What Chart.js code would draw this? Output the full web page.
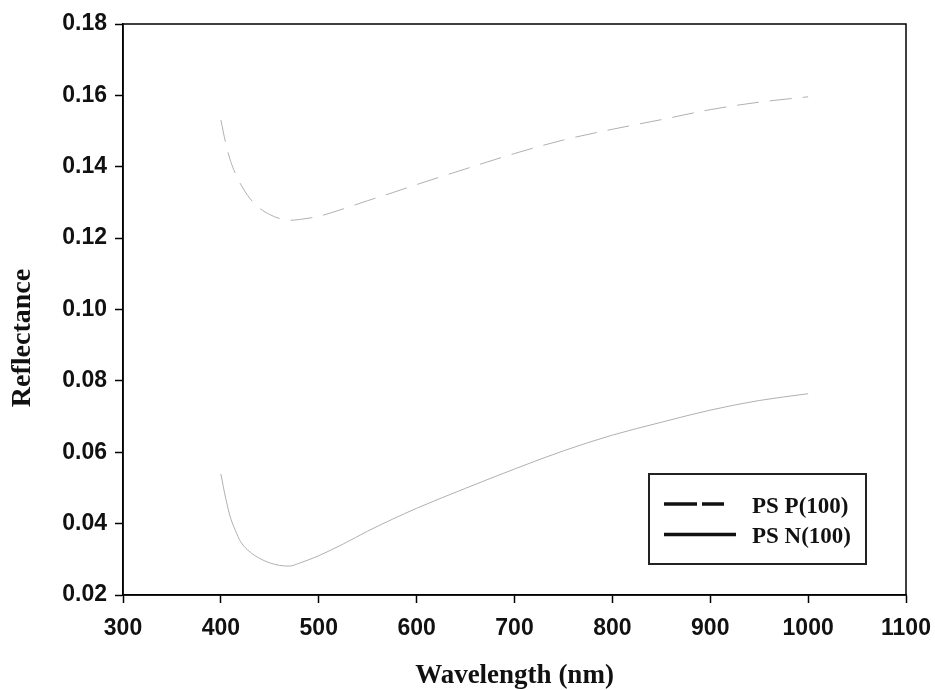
<!DOCTYPE html>
<html><head><meta charset="utf-8">
<script src="https://cdn.jsdelivr.net/npm/chart.js@4.4.1/dist/chart.umd.min.js"></script>
<style>html,body{margin:0;padding:0;background:#fff;}canvas{display:block;}</style>
</head><body>
<canvas id="c" width="935" height="690"></canvas>
<script>
// ---- data ----
const wavelengths = [400,405,410,415,420,430,440,450,460,470,480,490,500,525,550,575,600,650,700,750,800,850,900,950,1000];
const psP = [0.1531,0.1465,0.1415,0.1380,0.1352,0.1310,0.1283,0.1266,0.1255,0.1250,0.1252,0.1256,0.1261,0.1282,0.1305,0.1327,0.1350,0.1394,0.1437,0.1475,0.1505,0.1532,0.1560,0.1581,0.1596];
const psN = [0.0539,0.0470,0.0415,0.0380,0.0350,0.0320,0.0302,0.0290,0.0283,0.0281,0.0289,0.0299,0.0310,0.0343,0.0379,0.0412,0.0443,0.0499,0.0553,0.0604,0.0648,0.0684,0.0718,0.0745,0.0764];
const seriesLabels = ['PS P(100)', 'PS N(100)'];
const xTicks = [300,400,500,600,700,800,900,1000,1100];
const yTicks = [0.02,0.04,0.06,0.08,0.10,0.12,0.14,0.16,0.18];
const xTitle = 'Wavelength (nm)';
const yTitle = 'Reflectance';

const SANS = '"Liberation Sans", Arial, sans-serif';
const SERIF = '"Liberation Serif", "Times New Roman", serif';
const toPts = arr => wavelengths.map((w, i) => ({x: w, y: arr[i]}));

const framePlugin = {
  id: 'frame',
  afterDraw(chart) {
    const {ctx, chartArea: a} = chart;
    ctx.save();
    ctx.strokeStyle = '#000';
    ctx.lineWidth = 1.5;
    ctx.strokeRect(a.left, a.top, a.right - a.left, a.bottom - a.top);
    // y axis title
    ctx.translate(22.5, 338);
    ctx.rotate(-Math.PI / 2);
    ctx.fillStyle = '#111';
    ctx.font = 'bold 28px ' + SERIF;
    ctx.textAlign = 'center';
    ctx.textBaseline = 'middle';
    ctx.fillText(yTitle, 0, 0);
    ctx.restore();
  }
};

const legendPlugin = {
  id: 'boxLegend',
  afterDraw(chart) {
    const {ctx, chartArea: a} = chart;
    const bx = a.right - 257, by = a.bottom - 121, bw = 217, bh = 90;
    ctx.save();
    ctx.fillStyle = '#fff';
    ctx.fillRect(bx, by, bw, bh);
    ctx.strokeStyle = '#222';
    ctx.lineWidth = 2;
    ctx.strokeRect(bx, by, bw, bh);
    const styles = [{dash: [33, 5], len: 60}, {dash: [], len: 72}];
    chart.data.datasets.forEach((ds, i) => {
      const ly = by + 30 + i * 30.5;
      ctx.beginPath();
      ctx.setLineDash(styles[i].dash);
      ctx.strokeStyle = '#111';
      ctx.lineWidth = 3.5;
      ctx.moveTo(bx + 15, ly);
      ctx.lineTo(bx + 15 + styles[i].len, ly);
      ctx.stroke();
      ctx.setLineDash([]);
      ctx.fillStyle = '#111';
      ctx.font = 'bold 23px ' + SERIF;
      ctx.textAlign = 'left';
      ctx.textBaseline = 'alphabetic';
      ctx.fillText(ds.label, bx + 103, ly + 8.5);
    });
    ctx.restore();
  }
};

new Chart(document.getElementById('c'), {
  type: 'line',
  data: {
    datasets: [
      {label: seriesLabels[0], data: toPts(psP), borderColor: '#b0b0b0', borderWidth: 1, borderDash: [22, 11], pointRadius: 0, fill: false, cubicInterpolationMode: 'monotone'},
      {label: seriesLabels[1], data: toPts(psN), borderColor: '#b0b0b0', borderWidth: 1, pointRadius: 0, fill: false, cubicInterpolationMode: 'monotone'}
    ]
  },
  options: {
    responsive: false,
    animation: false,
    layout: {padding: {top: 24, right: 29, left: 0, bottom: 0}},
    plugins: {legend: {display: false}, tooltip: {enabled: false}},
    scales: {
      x: {
        type: 'linear', min: 300, max: 1100,
        afterBuildTicks: s => { s.ticks = xTicks.map(v => ({value: v})); },
        afterFit: s => { s.height = 95; s.paddingLeft = 0; s.paddingRight = 0; },
        ticks: {color: '#111', font: {family: SANS, size: 23, weight: 'bold'}, padding: 12, maxRotation: 0, autoSkip: false, callback: v => String(v)},
        grid: {drawOnChartArea: false, tickLength: 8, color: '#000', tickWidth: 1.5},
        border: {color: '#000', width: 1.5},
        title: {display: true, text: xTitle, color: '#111', font: {family: SERIF, size: 27, weight: 'bold', lineHeight: 1}, padding: {top: 0, bottom: 0}}
      },
      y: {
        type: 'linear', min: 0.02, max: 0.18,
        afterBuildTicks: s => { s.ticks = yTicks.map(v => ({value: v})); },
        afterFit: s => { s.width = 123; s.paddingTop = 0; s.paddingBottom = 0; },
        ticks: {color: '#111', font: {family: SANS, size: 23, weight: 'bold'}, padding: 8, autoSkip: false, callback: v => Number(v).toFixed(2)},
        grid: {drawOnChartArea: false, tickLength: 8, color: '#000', tickWidth: 1.5},
        border: {color: '#000', width: 1.5}
      }
    }
  },
  plugins: [framePlugin, legendPlugin]
});
</script>
</body></html>
